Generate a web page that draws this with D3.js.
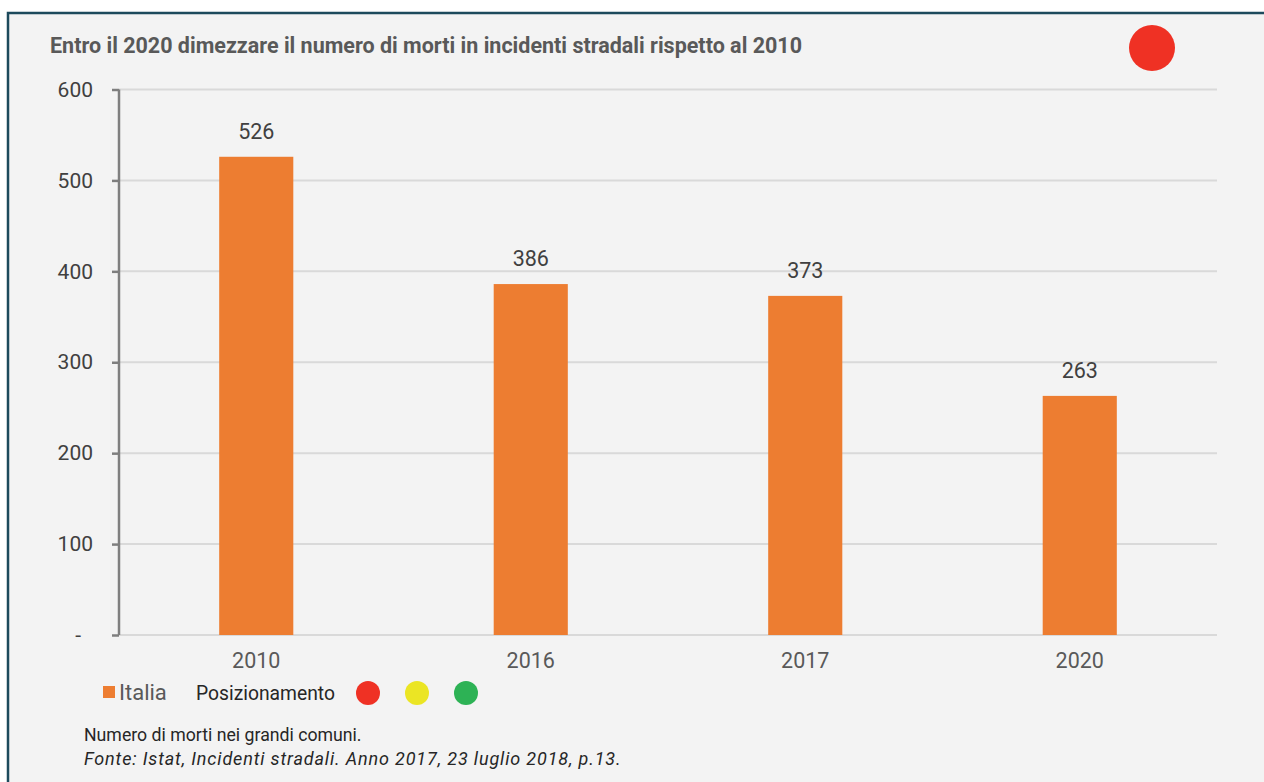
<!DOCTYPE html>
<html>
<head>
<meta charset="utf-8">
<script src="https://cdn.jsdelivr.net/npm/d3@7"></script>
<style>
  body { margin: 0; background: #fff; }
  svg { display: block; font-family: Roboto, "Noto Sans", sans-serif; }
</style>
</head>
<body>
<div id="chart"></div>
<script>
// data
var years = ["2010", "2016", "2017", "2020"];
var morti = [526, 386, 373, 263];
var yTicks = [0, 100, 200, 300, 400, 500, 600];
var semaforo = ["#ef3124", "#ebe524", "#2db255"];

var W = 1264, H = 782;
var margin = {top: 89.5, right: 47, bottom: 147, left: 119};
var width = W - margin.left - margin.right,
    height = H - margin.top - margin.bottom;

var svg = d3.select("#chart").append("svg")
    .attr("width", W)
    .attr("height", H);

// frame
svg.append("rect")
    .attr("x", 8).attr("y", 13)
    .attr("width", W + 10).attr("height", H + 10)
    .attr("fill", "#f3f3f3")
    .attr("stroke", "#1d4a5c")
    .attr("stroke-width", 2.5);

svg.append("text")
    .attr("x", 50).attr("y", 53)
    .attr("font-size", 21.5)
    .attr("font-weight", "bold")
    .attr("fill", "#595959")
    .text("Entro il 2020 dimezzare il numero di morti in incidenti stradali rispetto al 2010");

svg.append("circle")
    .attr("cx", 1152).attr("cy", 48).attr("r", 23)
    .attr("fill", semaforo[0]);

var g = svg.append("g")
    .attr("transform", "translate(" + margin.left + "," + margin.top + ")");

var x = d3.scaleBand().domain(years).range([0, width]).paddingInner(0.73).paddingOuter(0.365);
var y = d3.scaleLinear().domain([0, 600]).range([height, 0]);

// gridlines
g.selectAll(".grid")
    .data(yTicks)
  .enter().append("line")
    .attr("class", "grid")
    .attr("x1", 0).attr("x2", width)
    .attr("y1", function(d) { return y(d); })
    .attr("y2", function(d) { return y(d); })
    .attr("stroke", "#d9d9d9")
    .attr("stroke-width", 2);

// y axis
var yAxis = g.append("g")
    .call(d3.axisLeft(y).tickValues(yTicks).tickSize(7).tickPadding(19)
        .tickFormat(function(d) { return d === 0 ? "-" : d; }));
yAxis.select(".domain").attr("stroke", "#7f7f7f").attr("stroke-width", 2.5).attr("d", "M0," + y(600) + "V" + y(0));
yAxis.selectAll(".tick line").attr("stroke", "#7f7f7f").attr("stroke-width", 2.5);
yAxis.selectAll(".tick text")
    .attr("font-size", 21).attr("fill", "#404040")
    .attr("font-family", "Roboto, sans-serif");
yAxis.selectAll(".tick text").filter(function(d) { return d === 0; }).attr("dx", -12);

// bars
g.selectAll(".bar")
    .data(morti)
  .enter().append("rect")
    .attr("class", "bar")
    .attr("x", function(d, i) { return x(years[i]); })
    .attr("y", function(d) { return y(d); })
    .attr("width", x.bandwidth())
    .attr("height", function(d) { return height - y(d); })
    .attr("fill", "#ed7d31");

g.selectAll(".lbl")
    .data(morti)
  .enter().append("text")
    .attr("class", "lbl")
    .attr("x", function(d, i) { return x(years[i]) + x.bandwidth() / 2; })
    .attr("y", function(d) { return y(d) - 18; })
    .attr("text-anchor", "middle")
    .attr("font-size", 21.5)
    .attr("fill", "#404040")
    .text(function(d) { return d; });

// x labels
var xAxis = g.append("g")
    .attr("transform", "translate(0," + height + ")")
    .call(d3.axisBottom(x).tickSize(0).tickPadding(18));
xAxis.select(".domain").remove();
xAxis.selectAll(".tick text")
    .attr("font-size", 21.5).attr("fill", "#595959")
    .attr("font-family", "Roboto, sans-serif");

// legend
svg.append("rect")
    .attr("x", 103).attr("y", 686).attr("width", 12).attr("height", 12)
    .attr("fill", "#ed7d31");
svg.append("text")
    .attr("x", 119).attr("y", 700)
    .attr("font-size", 22).attr("fill", "#595959")
    .text("Italia");
svg.append("text")
    .attr("x", 196).attr("y", 700)
    .attr("font-size", 19.3).attr("fill", "#262626")
    .text("Posizionamento");
svg.selectAll(".sem")
    .data(semaforo)
  .enter().append("circle")
    .attr("class", "sem")
    .attr("cx", function(d, i) { return 368 + i * 49; })
    .attr("cy", 693)
    .attr("r", 12)
    .attr("fill", function(d) { return d; });

// notes
svg.append("text")
    .attr("x", 84).attr("y", 741)
    .attr("font-size", 17.7).attr("fill", "#262626")
    .text("Numero di morti nei grandi comuni.");
svg.append("text")
    .attr("x", 84).attr("y", 765)
    .attr("font-size", 18).attr("font-style", "italic").attr("fill", "#262626")
    .attr("letter-spacing", 0.85)
    .text("Fonte: Istat, Incidenti stradali. Anno 2017, 23 luglio 2018, p.13.");
</script>
</body>
</html>
